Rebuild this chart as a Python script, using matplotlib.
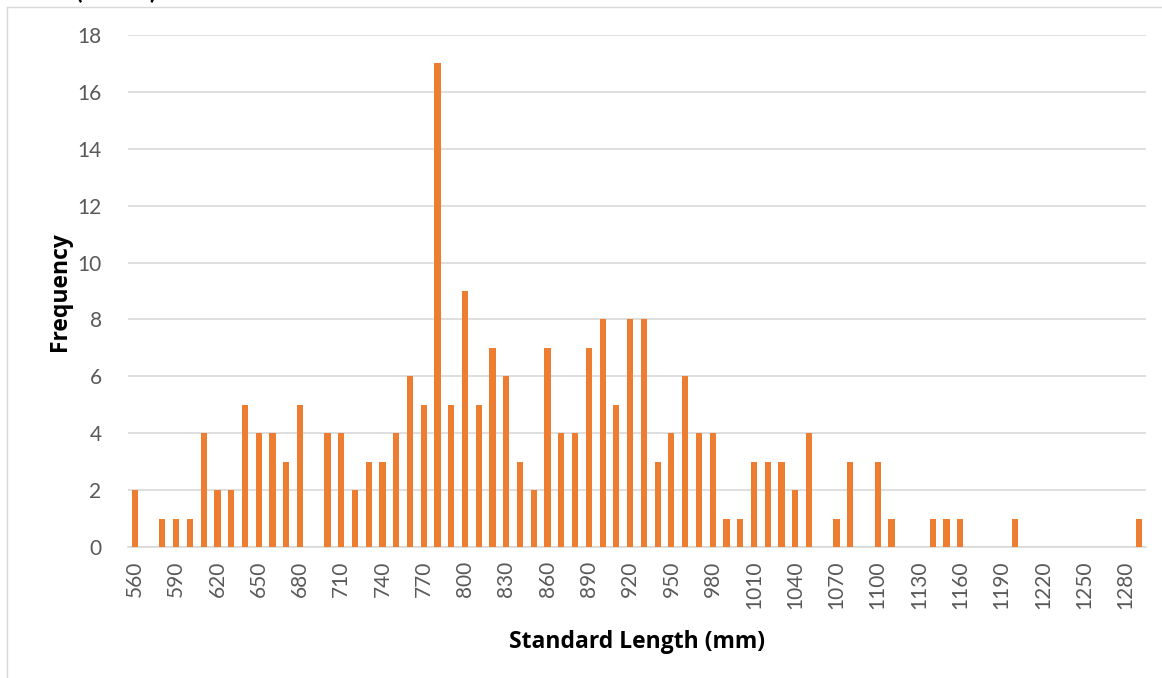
import matplotlib.pyplot as plt
from matplotlib.lines import Line2D

plt.rcParams['font.family'] = ['Lato', 'DejaVu Sans']

# standard length bins (mm) and counts
lengths = list(range(560, 1300, 10))
counts = [2, 0, 1, 1, 1, 4, 2, 2, 5, 4, 4, 3, 5, 0, 4, 4, 2, 3, 3, 4,
          6, 5, 17, 5, 9, 5, 7, 6, 3, 2, 7, 4, 4, 7, 8, 5, 8, 8, 3, 4,
          6, 4, 4, 1, 1, 3, 3, 3, 2, 4, 0, 1, 3, 0, 3, 1, 0, 0, 1, 1,
          1, 0, 0, 0, 1, 0, 0, 0, 0, 0, 0, 0, 0, 1]
yticks = list(range(0, 20, 2))

BAR = '#ED7D31'
GRID = '#D9D9D9'
TXT = '#595959'

fig = plt.figure(figsize=(11.62, 6.78), dpi=100)
ax = fig.add_axes([128 / 1162, 131 / 678, 1018 / 1162, 512 / 678])

x = list(range(len(lengths)))
ax.bar(x, counts, width=0.45, color=BAR, zorder=3)

ax.set_xlim(-0.5, len(lengths) - 0.5)
ax.set_ylim(0, 18)
ax.set_yticks(yticks)
ax.set_xticks(x[::3])
ax.set_xticklabels([str(v) for v in lengths[::3]], rotation=90)
ax.tick_params(axis='both', length=0, labelsize=15, labelcolor=TXT)
ax.tick_params(axis='y', pad=19)
ax.tick_params(axis='x', pad=10)

ax.grid(axis='y', color=GRID, linewidth=1.2, zorder=0)
for s in ['top', 'right', 'left']:
    ax.spines[s].set_visible(False)
ax.spines['bottom'].set_color(GRID)
ax.spines['bottom'].set_linewidth(1.2)

ax.set_xlabel('Standard Length (mm)', fontsize=16.5, fontweight='bold',
              family=['Open Sans', 'DejaVu Sans'], color='black', labelpad=15)
ax.set_ylabel('Frequency', fontsize=16.5, fontweight='bold',
              family=['Open Sans', 'DejaVu Sans'], color='black')
ax.yaxis.set_label_coords(-68 / 1018, 0.498)
ax.yaxis.label.set_va('center')

# chart frame (partly cut off)
fig.add_artist(Line2D([7 / 1162, 7 / 1162], [0, 1 - 7 / 678], color=GRID,
                      linewidth=1, transform=fig.transFigure))
fig.add_artist(Line2D([7 / 1162, 1], [1 - 7 / 678, 1 - 7 / 678], color=GRID,
                      linewidth=1, transform=fig.transFigure))

# clipped title at the very top
fig.text(75 / 1162, 1 + 1 / 678, '(n=221)', fontsize=17, fontweight='bold',
         color='black', ha='left', va='baseline')

fig.savefig('out.png', dpi=100)
